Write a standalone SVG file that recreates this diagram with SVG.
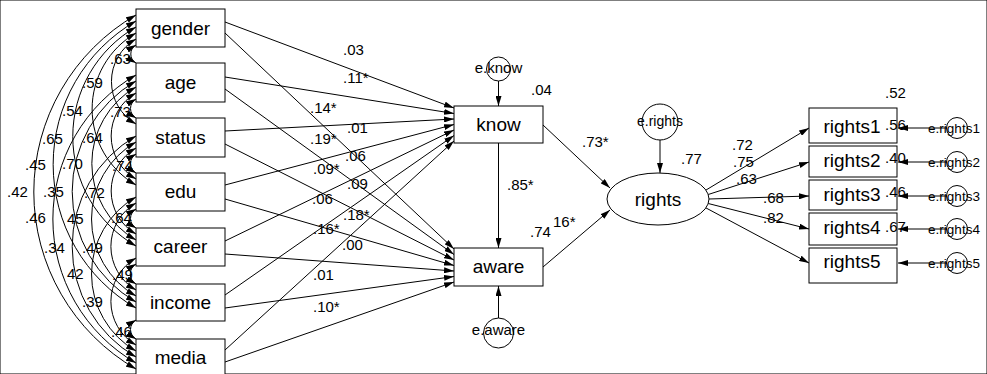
<svg xmlns="http://www.w3.org/2000/svg" width="987" height="374" viewBox="0 0 987 374">
<style>
text{font-family:"Liberation Sans",Arial,sans-serif;fill:#000}
.n{font-size:19px;text-anchor:middle}
.l{font-size:15px}
.e{font-size:15px;text-anchor:middle}
.s{font-size:13.5px;text-anchor:middle}
rect,ellipse,circle{fill:#fff;stroke:#000;stroke-width:1}
#connectors path,#connectors line{fill:none;stroke:#000;stroke-width:1;marker-end:url(#ah)}
#connectors .cov{marker-start:url(#ah)}
</style>
<defs>
<marker id="ah" viewBox="0 0 10 6" refX="10" refY="3" markerWidth="10" markerHeight="6" markerUnits="userSpaceOnUse" orient="auto-start-reverse"><path d="M0,0 L10,3 L0,6 z" fill="#000"/></marker>
</defs>
<rect x="0" y="0" width="987" height="374" fill="#fff" stroke="none"/>
<g id="connectors">
<path class="cov" d="M136,45 A10.39,10.39 0 0 0 136,63"/>
<path class="cov" d="M136,39 A49.07,49.07 0 0 0 136,124"/>
<path class="cov" d="M136,33 A87.76,87.76 0 0 0 136,185"/>
<path class="cov" d="M136,27 A126.44,126.44 0 0 0 136,246"/>
<path class="cov" d="M136,21 A165.70,165.70 0 0 0 136,308"/>
<path class="cov" d="M136,15 A204.38,204.38 0 0 0 136,369"/>
<path class="cov" d="M136,99 A10.97,10.97 0 0 0 136,118"/>
<path class="cov" d="M136,93 A49.65,49.65 0 0 0 136,179"/>
<path class="cov" d="M136,87 A88.33,88.33 0 0 0 136,240"/>
<path class="cov" d="M136,81 A127.59,127.59 0 0 0 136,302"/>
<path class="cov" d="M136,75 A166.28,166.28 0 0 0 136,363"/>
<path class="cov" d="M136,154 A10.97,10.97 0 0 0 136,173"/>
<path class="cov" d="M136,148 A49.65,49.65 0 0 0 136,234"/>
<path class="cov" d="M136,142 A88.91,88.91 0 0 0 136,296"/>
<path class="cov" d="M136,136 A127.59,127.59 0 0 0 136,357"/>
<path class="cov" d="M136,209 A10.97,10.97 0 0 0 136,228"/>
<path class="cov" d="M136,203 A50.23,50.23 0 0 0 136,290"/>
<path class="cov" d="M136,197 A88.91,88.91 0 0 0 136,351"/>
<path class="cov" d="M136,264 A11.55,11.55 0 0 0 136,284"/>
<path class="cov" d="M136,258 A50.23,50.23 0 0 0 136,345"/>
<path class="cov" d="M136,320 A10.97,10.97 0 0 0 136,339"/>
<line x1="225" y1="22" x2="454" y2="108"/>
<line x1="225" y1="77" x2="454" y2="113.5"/>
<line x1="225" y1="131" x2="454" y2="119"/>
<line x1="225" y1="185" x2="454" y2="124.5"/>
<line x1="225" y1="241" x2="454" y2="130"/>
<line x1="225" y1="295" x2="454" y2="135.5"/>
<line x1="225" y1="350" x2="454" y2="141"/>
<line x1="225" y1="33" x2="454" y2="249"/>
<line x1="225" y1="89" x2="454" y2="254.5"/>
<line x1="225" y1="144" x2="454" y2="260"/>
<line x1="225" y1="199" x2="454" y2="265.5"/>
<line x1="225" y1="254" x2="454" y2="271"/>
<line x1="225" y1="308" x2="454" y2="276.5"/>
<line x1="225" y1="362" x2="454" y2="282"/>
<line x1="498.5" y1="81" x2="498.5" y2="106"/>
<line x1="498.5" y1="318" x2="498.5" y2="286"/>
<line x1="498.5" y1="143" x2="498.5" y2="248"/>
<line x1="543" y1="125" x2="610" y2="188"/>
<line x1="543" y1="267" x2="610" y2="210"/>
<line x1="660" y1="140" x2="660" y2="173"/>
<line x1="705.9" y1="190.1" x2="809" y2="128"/>
<line x1="708.2" y1="194.5" x2="809" y2="162"/>
<line x1="709" y1="199" x2="809" y2="196"/>
<line x1="708.2" y1="203.5" x2="809" y2="229"/>
<line x1="705.9" y1="207.9" x2="809" y2="263"/>
<line x1="947" y1="128" x2="898" y2="128"/>
<line x1="947" y1="162" x2="898" y2="162"/>
<line x1="947" y1="196" x2="898" y2="196"/>
<line x1="947" y1="229" x2="898" y2="229"/>
<line x1="947" y1="263" x2="898" y2="263"/>
</g>
<g id="gender"><rect x="136" y="9" width="89" height="38"/><text class="n" x="180.5" y="34.5">gender</text></g>
<g id="age"><rect x="136" y="63" width="89" height="39"/><text class="n" x="180.5" y="88.5">age</text></g>
<g id="status"><rect x="136" y="118" width="89" height="39"/><text class="n" x="180.5" y="143.5">status</text></g>
<g id="edu"><rect x="136" y="173" width="89" height="38"/><text class="n" x="180.5" y="198">edu</text></g>
<g id="career"><rect x="136" y="228" width="89" height="38"/><text class="n" x="180.5" y="253">career</text></g>
<g id="income"><rect x="136" y="284" width="89" height="37"/><text class="n" x="180.5" y="308.5">income</text></g>
<g id="media"><rect x="136" y="339" width="89" height="38"/><text class="n" x="180.5" y="364">media</text></g>
<g id="know"><rect x="454" y="106" width="89" height="37"/><text class="n" x="498.5" y="131">know</text></g>
<g id="aware"><rect x="454" y="248" width="89" height="38"/><text class="n" x="498.5" y="273">aware</text></g>
<g id="e.know"><circle cx="498.5" cy="69" r="12"/><text class="e" x="498.5" y="73">e.know</text></g>
<g id="e.aware"><circle cx="498.5" cy="333" r="15"/><text class="e" x="498.5" y="335">e.aware</text></g>
<g id="e.rights"><circle cx="660" cy="122" r="18"/><text class="e" x="660" y="126" style="font-size:14px">e.rights</text></g>
<g id="rights"><ellipse cx="658" cy="199" rx="51" ry="26"/><text class="n" x="658" y="205.5">rights</text></g>
<g id="rights1"><rect x="809" y="108" width="88" height="35"/><text class="n" x="852" y="133">rights1</text></g>
<g id="rights2"><rect x="809" y="146" width="88" height="31"/><text class="n" x="852" y="167">rights2</text></g>
<g id="rights3"><rect x="809" y="180" width="88" height="30"/><text class="n" x="852" y="201">rights3</text></g>
<g id="rights4"><rect x="809" y="213" width="88" height="32"/><text class="n" x="852" y="234">rights4</text></g>
<g id="rights5"><rect x="809" y="248" width="88" height="35"/><text class="n" x="852" y="268">rights5</text></g>
<g id="e.rights1"><circle cx="957" cy="128" r="10.5"/><text class="s" x="954" y="133">e.rights1</text></g>
<g id="e.rights2"><circle cx="957" cy="162" r="10.5"/><text class="s" x="954" y="167">e.rights2</text></g>
<g id="e.rights3"><circle cx="957" cy="196" r="10.5"/><text class="s" x="954" y="201">e.rights3</text></g>
<g id="e.rights4"><circle cx="957" cy="229" r="10.5"/><text class="s" x="954" y="234">e.rights4</text></g>
<g id="e.rights5"><circle cx="957" cy="263" r="10.5"/><text class="s" x="954" y="268">e.rights5</text></g>
<g id="labels">
<text class="l" x="110" y="64">.63</text>
<text class="l" x="110" y="117">.73</text>
<text class="l" x="112" y="171">.74</text>
<text class="l" x="111" y="223">.64</text>
<text class="l" x="112" y="280">.49</text>
<text class="l" x="111" y="337">.46</text>
<text class="l" x="82" y="88">.59</text>
<text class="l" x="82" y="143">.64</text>
<text class="l" x="84" y="198">.72</text>
<text class="l" x="82" y="253">.49</text>
<text class="l" x="82" y="307">.39</text>
<text class="l" x="62" y="116">.54</text>
<text class="l" x="62" y="169">.70</text>
<text class="l" x="67" y="224">45</text>
<text class="l" x="67" y="279">42</text>
<text class="l" x="42" y="144">.65</text>
<text class="l" x="43" y="197">.35</text>
<text class="l" x="44" y="253">.34</text>
<text class="l" x="25" y="170">.45</text>
<text class="l" x="25" y="223">.46</text>
<text class="l" x="7" y="197">.42</text>
<text class="l" x="343" y="55">.03</text>
<text class="l" x="343" y="83">.11*</text>
<text class="l" x="310" y="113">.14*</text>
<text class="l" x="347" y="133">.01</text>
<text class="l" x="310" y="144">.19*</text>
<text class="l" x="345" y="161">.06</text>
<text class="l" x="313" y="174">.09*</text>
<text class="l" x="347" y="189">.09</text>
<text class="l" x="312" y="204">.06</text>
<text class="l" x="343" y="220">.18*</text>
<text class="l" x="313" y="234">.16*</text>
<text class="l" x="342" y="250">.00</text>
<text class="l" x="313" y="280">.01</text>
<text class="l" x="313" y="312">.10*</text>
<text class="l" x="531" y="95">.04</text>
<text class="l" x="582" y="147">.73*</text>
<text class="l" x="681" y="164">.77</text>
<text class="l" x="507" y="190">.85*</text>
<text class="l" x="530" y="237">.74</text>
<text class="l" x="553" y="227">16*</text>
<text class="l" x="885" y="98">.52</text>
<text class="l" x="732" y="150">.72</text>
<text class="l" x="733" y="167">.75</text>
<text class="l" x="736" y="184">.63</text>
<text class="l" x="763" y="203">.68</text>
<text class="l" x="763" y="223">.82</text>
<text class="l" x="885" y="130">.56</text>
<text class="l" x="885" y="163">.40</text>
<text class="l" x="885" y="197">.46</text>
<text class="l" x="885" y="232">.67</text>
</g>
</svg>
